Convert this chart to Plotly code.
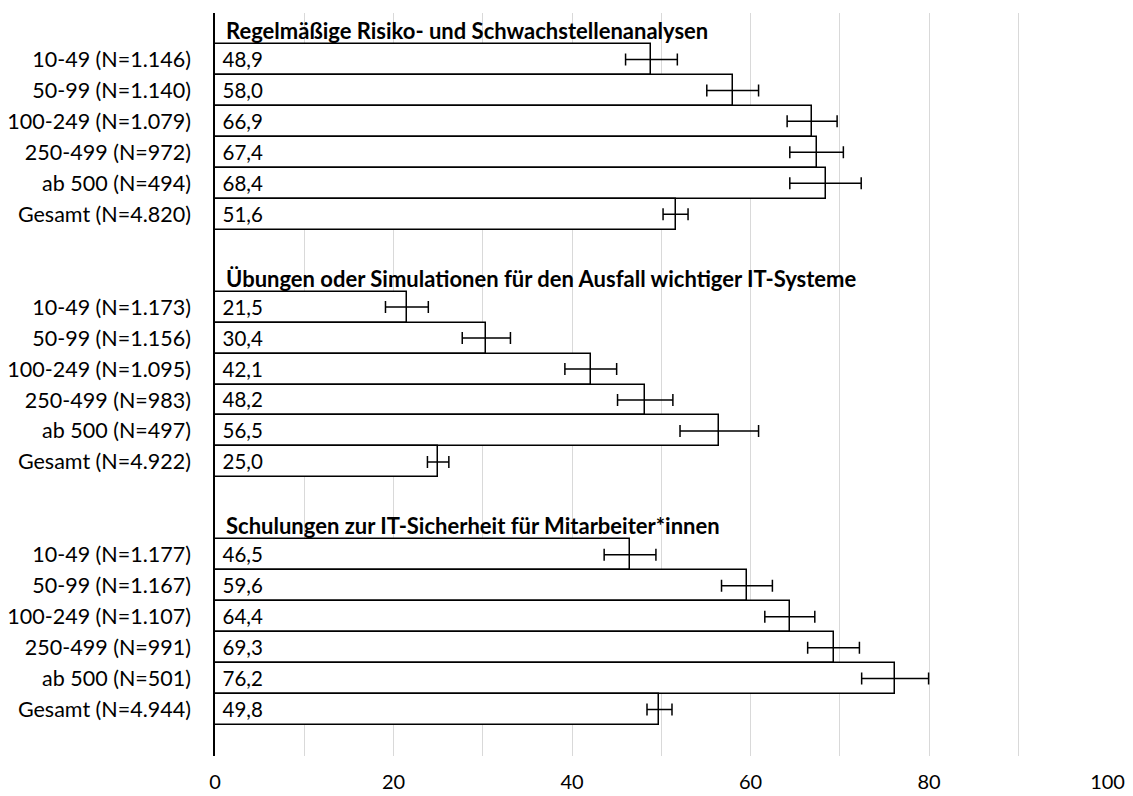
import plotly.graph_objects as go

group_titles = [
    "Regelmäßige Risiko- und Schwachstellenanalysen",
    "Übungen oder Simulationen für den Ausfall wichtiger IT-Systeme",
    "Schulungen zur IT-Sicherheit für Mitarbeiter*innen",
]
labels_g1 = ["10-49 (N=1.146)", "50-99 (N=1.140)", "100-249 (N=1.079)",
             "250-499 (N=972)", "ab 500 (N=494)", "Gesamt (N=4.820)"]
labels_g2 = ["10-49 (N=1.173)", "50-99 (N=1.156)", "100-249 (N=1.095)",
             "250-499 (N=983)", "ab 500 (N=497)", "Gesamt (N=4.922)"]
labels_g3 = ["10-49 (N=1.177)", "50-99 (N=1.167)", "100-249 (N=1.107)",
             "250-499 (N=991)", "ab 500 (N=501)", "Gesamt (N=4.944)"]
values_g1 = [48.9, 58.0, 66.9, 67.4, 68.4, 51.6]
values_g2 = [21.5, 30.4, 42.1, 48.2, 56.5, 25.0]
values_g3 = [46.5, 59.6, 64.4, 69.3, 76.2, 49.8]
errors_g1 = [2.9, 2.9, 2.8, 3.0, 4.0, 1.4]
errors_g2 = [2.4, 2.7, 2.9, 3.1, 4.4, 1.2]
errors_g3 = [2.9, 2.85, 2.8, 2.9, 3.75, 1.4]
x_ticks = [0, 20, 40, 60, 80, 100]

groups = [
    (labels_g1, values_g1, errors_g1),
    (labels_g2, values_g2, errors_g2),
    (labels_g3, values_g3, errors_g3),
]

FONT = "Lato"
ys, xs, errs, texts, tickvals, ticktext, title_pos = [], [], [], [], [], [], []
for g, (labs, vals, es) in enumerate(groups):
    base = 8 * g
    title_pos.append(base)
    for i, (l, v, e) in enumerate(zip(labs, vals, es)):
        pos = base + 1 + i
        ys.append(pos)
        xs.append(v)
        errs.append(e)
        texts.append(" " + f"{v:.1f}".replace(".", ","))
        tickvals.append(pos)
        ticktext.append(l)

fig = go.Figure()
fig.add_trace(go.Bar(
    x=xs, y=ys, orientation="h", width=1,
    marker=dict(color="white", line=dict(color="black", width=1.5)),
    text=texts, textposition="inside", insidetextanchor="start",
    textfont=dict(family=FONT, size=20.5, color="black"),
    constraintext="none",
    error_x=dict(type="data", array=errs, visible=True, color="black",
                 thickness=1.5, width=6),
    hoverinfo="skip",
))

for g, t in enumerate(group_titles):
    fig.add_annotation(x=0, y=title_pos[g], xref="x", yref="y", text=f"<b>{t}</b>",
                       showarrow=False, xanchor="left", yanchor="middle",
                       xshift=9, yshift=-2,
                       font=dict(family=FONT, size=22, color="black"))

grid_vals = list(range(0, 101, 10))
grid_text = [str(v) if v in x_ticks else "" for v in grid_vals]

fig.update_layout(
    width=1133, height=796,
    margin=dict(l=215, r=25, t=13, b=40),
    paper_bgcolor="white", plot_bgcolor="white",
    showlegend=False, bargap=0,
    font=dict(family=FONT, color="black"),
    xaxis=dict(range=[0, 100.05], tickvals=grid_vals, ticktext=grid_text,
               showgrid=True, gridcolor="#d9d9d9", gridwidth=1,
               zeroline=False, showline=False, ticks="",
               tickfont=dict(family=FONT, size=20, color="black"),
               ticklabelstandoff=12, automargin=False),
    yaxis=dict(range=[23.5, -0.5], tickvals=tickvals, ticktext=ticktext,
               showgrid=False, zeroline=False, showline=True,
               linecolor="black", linewidth=1.5, ticks="",
               tickfont=dict(family=FONT, size=21.5, color="black"),
               ticklabelstandoff=18, automargin=False),
)

fig.write_html("out.html", config={"displayModeBar": False},
               post_script="document.body.style.margin='0';")
